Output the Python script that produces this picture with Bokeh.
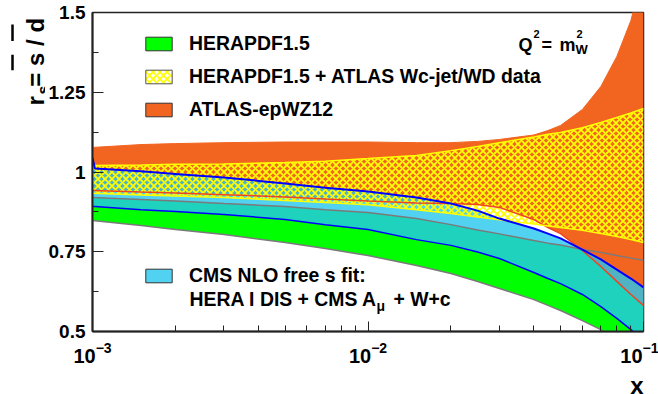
import math
from bokeh.plotting import figure
from bokeh.layouts import row, column
from bokeh.models import (Range1d, FixedTicker, NumeralTickFormatter, LogTickFormatter,
                          Label, Legend, LegendItem)
from bokeh.embed import file_html
from bokeh.resources import INLINE

# ---------------- data ----------------
x = [0.001, 0.0015, 0.002, 0.003, 0.005, 0.007, 0.01, 0.015, 0.02, 0.025,
     0.03, 0.04, 0.045, 0.05, 0.06, 0.07, 0.08, 0.09, 0.1]

herapdf_lo = [0.848, 0.832, 0.820, 0.804, 0.779, 0.760, 0.738, 0.707, 0.682, 0.657,
              0.635, 0.600, 0.582, 0.566, 0.534, 0.506, 0.478, 0.456, 0.434]
herapdf_hi = [0.920, 0.914, 0.909, 0.901, 0.892, 0.882, 0.873, 0.854, 0.835, 0.818,
              0.806, 0.785, 0.777, 0.771, 0.757, 0.748, 0.738, 0.730, 0.723]

atlas_lo = [0.942, 0.937, 0.934, 0.929, 0.922, 0.915, 0.909, 0.903, 0.901, 0.898,
            0.889, 0.851, 0.826, 0.807, 0.754, 0.704, 0.657, 0.616, 0.582]
atlas_hi = [1.077, 1.086, 1.089, 1.092, 1.094, 1.094, 1.094, 1.092, 1.092, 1.096,
            1.102, 1.116, 1.130, 1.146, 1.196, 1.268, 1.362, 1.475, 1.632]

wcjet_lo = [0.933, 0.928, 0.925, 0.920, 0.911, 0.904, 0.897, 0.882, 0.870, 0.859,
            0.850, 0.837, 0.831, 0.826, 0.817, 0.807, 0.798, 0.788, 0.779]
wcjet_hi = [1.020, 1.022, 1.024, 1.025, 1.030, 1.034, 1.042, 1.052, 1.067, 1.080,
            1.092, 1.110, 1.118, 1.124, 1.139, 1.155, 1.171, 1.185, 1.199]

cms_x = [0.001, 0.00102, 0.0015, 0.002, 0.003, 0.005, 0.007, 0.01, 0.015, 0.02, 0.025,
         0.03, 0.04, 0.045, 0.05, 0.06, 0.07, 0.08, 0.09, 0.1]
cms_lo = [0.892, 0.892, 0.882, 0.876, 0.867, 0.851, 0.835, 0.820, 0.788, 0.770, 0.749,
          0.729, 0.685, 0.666, 0.650, 0.616, 0.578, 0.541, 0.506, 0.472]
cms_hi = [1.045, 1.011, 1.002, 0.994, 0.983, 0.964, 0.951, 0.939, 0.920, 0.901, 0.879,
          0.854, 0.823, 0.807, 0.792, 0.757, 0.726, 0.694, 0.666, 0.638]

x_ticks = [0.001, 0.01, 0.1]
x_minor = [m * d for d in (0.001, 0.01) for m in range(2, 10)]
y_ticks = [0.5, 0.75, 1.0, 1.25, 1.5]
y_minor = [0.625, 0.875, 1.125, 1.375]

legend_labels = ["HERAPDF1.5", "HERAPDF1.5 + ATLAS Wc-jet/WD data", "ATLAS-epWZ12"]
cms_label_1 = "CMS NLO free s fit:"
cms_label_2 = "HERA I DIS + CMS A"
cms_label_sub = "\u03bc"
cms_label_3 = "+ W+c"

# ---------------- style ----------------
FONT = "Liberation Sans"
GREEN = "#00ff00"
ORANGE = "#f26521"
YELLOW = "#ffff00"
CYAN = "#25c7ee"
GRAY = "#7a7a7a"
RED = "#ee4422"
BLUE = "#0000ff"

W, H = 658, 394
LEFT_W = 45          # strip holding the y-axis title
BOTTOM_H = 24        # strip holding the x-axis title
FRAME_L = 92         # frame left edge on the page

# page pixel -> data helpers, only used to place annotation texts
def X(px):
    return 10 ** (-3 + (px - FRAME_L) / 275.5)

def Y(py):
    return 1.5 - (py - 12) / 319.0

p = figure(width=W - LEFT_W, height=H - BOTTOM_H, x_axis_type="log",
           x_range=Range1d(1e-3, 1e-1), y_range=Range1d(0.5, 1.5),
           output_backend="svg", toolbar_location=None,
           min_border_left=FRAME_L - LEFT_W, min_border_right=15,
           min_border_top=12, min_border_bottom=H - BOTTOM_H - 331)
p.grid.visible = False
p.outline_line_color = "#222222"
p.outline_line_width = 1.5
p.background_fill_color = "white"
p.border_fill_color = "white"

# bands
p.varea(x=x, y1=herapdf_lo, y2=herapdf_hi, fill_color=GREEN)
p.varea(x=x, y1=atlas_lo, y2=atlas_hi, fill_color=ORANGE)
p.varea(x=cms_x, y1=cms_lo, y2=cms_hi, fill_color=CYAN, fill_alpha=0.8)
p.varea(x=x, y1=wcjet_lo, y2=wcjet_hi, fill_alpha=0, hatch_pattern="x",
        hatch_color=YELLOW, hatch_scale=7, hatch_weight=1.8)

# band edges
p.line(x, herapdf_lo, line_color=GRAY, line_width=1.5)
p.line(x, herapdf_hi, line_color=GRAY, line_width=1.5)
p.line(x, atlas_lo, line_color=RED, line_width=1.5)
p.line(x, atlas_hi, line_color=ORANGE, line_width=1)
p.line(x, wcjet_lo, line_color=YELLOW, line_width=1.5)
p.line(x, wcjet_hi, line_color=YELLOW, line_width=1.5)
p.line(cms_x, cms_lo, line_color=BLUE, line_width=1.5)
p.line(cms_x, cms_hi, line_color=BLUE, line_width=2)

# axes
xa = p.xaxis[0]
xa.ticker = FixedTicker(ticks=x_ticks, minor_ticks=x_minor)
xa.formatter = LogTickFormatter()
ya = p.yaxis[0]
ya.ticker = FixedTicker(ticks=y_ticks, minor_ticks=y_minor)
ya.formatter = NumeralTickFormatter(format="0.[00]")
for ax, mj, mn in ((xa, 10, 6), (ya, 11, 6)):
    ax.major_tick_in = mj
    ax.major_tick_out = 0
    ax.minor_tick_in = mn
    ax.minor_tick_out = 0
    ax.axis_line_width = 2
    ax.axis_line_color = "#222222"
    ax.major_tick_line_color = "#222222"
    ax.minor_tick_line_color = "#222222"
    ax.major_label_text_font = FONT
    ax.major_label_text_font_style = "bold"
    ax.major_label_text_color = "black"
xa.major_label_text_font_size = "20px"
xa.major_label_standoff = 10
ya.major_label_text_font_size = "19px"
ya.major_label_standoff = 7

# legend proxies (zero-size boxes below the visible y range)
def legend_box(**kw):
    return p.quad(left=[x_ticks[0]], right=[x_ticks[0]], top=[0.0], bottom=[0.0], **kw)

g_leg = legend_box(fill_color=GREEN, line_color="#333333", line_width=1)
y_leg = legend_box(fill_color="white", hatch_pattern="x", hatch_color=YELLOW, hatch_scale=7,
                   hatch_weight=1.8, line_color="#555555", line_width=1)
o_leg = legend_box(fill_color=ORANGE, line_color="#333333", line_width=1)
c_leg = legend_box(fill_color=CYAN, fill_alpha=0.8, line_color="#333333", line_width=1)

common = dict(padding=0, margin=0, border_line_color=None, background_fill_alpha=0,
              glyph_width=33, glyph_height=17, label_standoff=14, spacing=10,
              label_text_font=FONT, label_text_font_style="bold",
              label_text_font_size="19.4px", label_text_color="black")
leg1 = Legend(items=[LegendItem(label=legend_labels[0], renderers=[g_leg]),
                     LegendItem(label=legend_labels[1], renderers=[y_leg]),
                     LegendItem(label=legend_labels[2], renderers=[o_leg])],
              location=(50, 210), **common)
leg2 = Legend(items=[LegendItem(label=cms_label_1, renderers=[c_leg])],
              location=(50, 44), **common)
p.add_layout(leg1)
p.add_layout(leg2)

def lab(fig, xx, yy, text, size, angle=0.0, align="left"):
    fig.add_layout(Label(x=xx, y=yy, text=text, angle=angle, text_align=align,
                         text_baseline="alphabetic", text_font=FONT, text_font_style="bold",
                         text_font_size=size, text_color="black"))

lab(p, X(189), Y(298), cms_label_2, "19.4px")
lab(p, X(376), Y(305), cms_label_sub, "14px")
lab(p, X(393), Y(298), cms_label_3, "19.4px")

# Q^2 = m_W^2
lab(p, X(518), Y(44), "Q", "18px")
lab(p, X(533), Y(33), "2", "11px")
lab(p, X(541), Y(44), "=", "18px")
lab(p, X(559), Y(44), "m", "18px")
lab(p, X(576), Y(33), "2", "11px")
lab(p, X(575), Y(49), "W", "13px")

def strip(w, h, y_top, y_bottom, x0=0):
    f = figure(width=w, height=h, x_range=Range1d(x0, x0 + w), y_range=Range1d(y_bottom, y_top),
               output_backend="svg", toolbar_location=None,
               x_axis_location=None, y_axis_location=None,
               min_border_left=0, min_border_right=0, min_border_top=0, min_border_bottom=0)
    f.grid.visible = False
    f.outline_line_color = None
    f.background_fill_color = "white"
    f.border_fill_color = "white"
    return f

# y-axis title strip, coordinates = page pixels
lf = strip(LEFT_W, H - BOTTOM_H, 0, H - BOTTOM_H)
lab(lf, 35, 108, "r", "24px", angle=math.pi / 2)
lab(lf, 43, 95, "s", "16px", angle=math.pi / 2)
lab(lf, 35, 86, "= s / d", "24px", angle=math.pi / 2)
lf.segment(x0=[12, 12], y0=[67, 33], x1=[12, 12], y1=[49, 14], line_width=2.5, line_color="black")

# x-axis title strip, coordinates = page pixels
bf = strip(W, BOTTOM_H, H - BOTTOM_H, H)
lab(bf, 643, 385, "x", "24px", align="right")

layout = column(row(lf, p), bf)
open("out.html", "w").write(file_html(layout, INLINE))
